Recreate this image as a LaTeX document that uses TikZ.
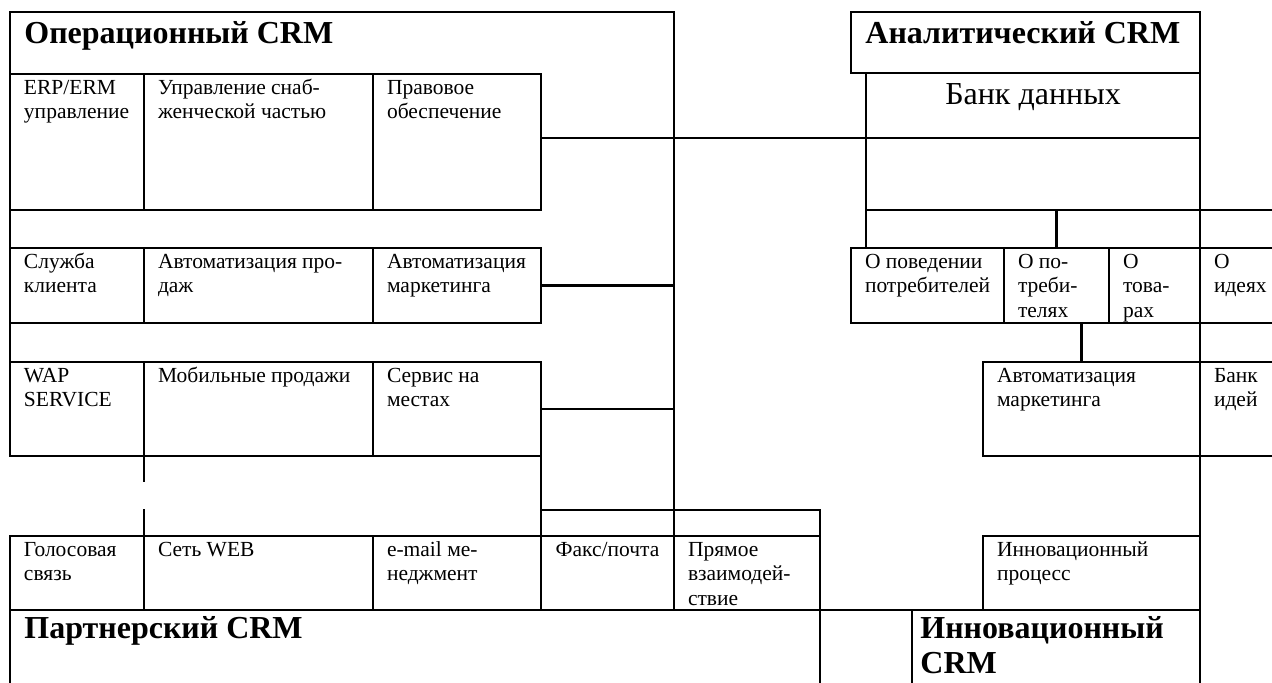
\documentclass[tikz,border=0pt]{standalone}
\usepackage{fontspec}
\setmainfont{Liberation Serif}
\usetikzlibrary{positioning}
\tikzstyle{cell}=[
	rectangle,
	draw,
	line width=1.1pt,
	outer sep=0pt,
	inner sep=0pt,
	anchor=north west
]
\tikzstyle{txt}=[
	anchor=base west,
	align=left,
	inner sep=0pt,
	xshift=6.8pt,
	yshift=-10.2pt,
	font=\fontsize{10.75}{12.2}\selectfont
]
\tikzstyle{twolines}=[
	yshift=-12.2pt
]
\tikzstyle{threelines}=[
	yshift=-24.4pt
]
\tikzstyle{crmtitle}=[
	anchor=north west,
	align=left,
	inner sep=0pt,
	xshift=7pt,
	yshift=-4.6pt,
	font=\fontsize{16}{17.5}\selectfont\bfseries
]
\tikzstyle{bigtxt}=[
	anchor=north,
	inner sep=0pt,
	yshift=-5pt,
	font=\fontsize{16}{17.5}\selectfont
]
\tikzstyle{link}=[
	line width=1.1pt
]

\begin{document}
\begin{tikzpicture}[node distance=0pt]
\useasboundingbox (0,0) rectangle (636pt,-341pt);
\clip (0,0) rectangle (636pt,-341pt);
% operational CRM
\coordinate (opcorner) at (337pt,-6pt);
\node [crmtitle] (optitle) at (5pt,-6pt) {Операционный CRM};
\node [cell, minimum width=67pt, minimum height=68pt] (erp) at (5pt,-37pt) {};
\node [cell, minimum width=114.5pt, minimum height=68pt, right=of erp] (snab) {};
\node [cell, minimum width=84pt, minimum height=68pt, right=of snab] (pravo) {};
\node [cell, minimum width=67pt, minimum height=37.5pt] (sluzhba) at (5pt,-124pt) {};
\node [cell, minimum width=114.5pt, minimum height=37.5pt, right=of sluzhba] (avtoprod) {};
\node [cell, minimum width=84pt, minimum height=37.5pt, right=of avtoprod] (avtomark) {};
\node [cell, minimum width=67pt, minimum height=47pt] (wap) at (5pt,-181pt) {};
\node [cell, minimum width=114.5pt, minimum height=47pt, right=of wap] (mobil) {};
\node [cell, minimum width=84pt, minimum height=47pt, right=of mobil] (servis) {};
% partner CRM
\node [cell, minimum width=67pt, minimum height=37pt] (golos) at (5pt,-268pt) {};
\node [cell, minimum width=114.5pt, minimum height=37pt, right=of golos] (web) {};
\node [cell, minimum width=84pt, minimum height=37pt, right=of web] (email) {};
\node [cell, minimum width=66.5pt, minimum height=37pt, right=of email] (faks) {};
\node [cell, minimum width=73pt, minimum height=37pt, right=of faks] (pryamoe) {};
\node [cell, minimum width=66.5pt, minimum height=13pt, above=of faks] (fakstop) {};
\node [cell, minimum width=73pt, minimum height=13pt, above=of pryamoe] (pryamoetop) {};
\node [cell, minimum width=405pt, minimum height=50pt, below=of golos.south west, anchor=north west] (partner) {};
% analytic CRM
\node [cell, minimum width=174.5pt, minimum height=30.5pt] (antitle) at (425.5pt,-6pt) {};
\node [cell, minimum width=167pt, minimum height=32.5pt, below=of antitle.south east, anchor=north east] (bank) {};
\node [cell, minimum width=167pt, minimum height=36pt, below=of bank] (dbempty) {};
\node [cell, minimum width=76.5pt, minimum height=37.5pt] (povedenie) at (antitle.south west |- sluzhba.north west) {};
\node [cell, minimum width=52.5pt, minimum height=37.5pt, right=of povedenie] (potreb) {};
\node [cell, minimum width=45.5pt, minimum height=37.5pt, right=of potreb] (tovar) {};
\node [cell, minimum width=60pt, minimum height=37.5pt, right=of tovar] (idei) {};
\node [cell, minimum width=108.5pt, minimum height=47pt] (avtomark2) at (491.5pt,-181pt) {};
\node [cell, minimum width=60pt, minimum height=47pt, right=of avtomark2] (bankidei) {};
% innovation CRM
\node [cell, minimum width=108.5pt, minimum height=37pt] (innovproc) at (491.5pt,-268pt) {};
\node [cell, minimum width=144pt, minimum height=50pt, below=of innovproc.south east, anchor=north east] (innovcrm) {};

% texts
\node [txt, twolines] (erp-t) at (erp.north west) {ERP/ERM\\управление};
\node [txt, twolines] (snab-t) at (snab.north west) {Управление снаб-\\женческой частью};
\node [txt, twolines] (pravo-t) at (pravo.north west) {Правовое\\обеспечение};
\node [txt, twolines] (sluzhba-t) at (sluzhba.north west) {Служба\\клиента};
\node [txt, twolines] (avtoprod-t) at (avtoprod.north west) {Автоматизация про-\\даж};
\node [txt, twolines] (avtomark-t) at (avtomark.north west) {Автоматизация\\маркетинга};
\node [txt, twolines] (wap-t) at (wap.north west) {WAP\\SERVICE};
\node [txt] (mobil-t) at (mobil.north west) {Мобильные продажи};
\node [txt, twolines] (servis-t) at (servis.north west) {Сервис на\\местах};
\node [txt, twolines] (golos-t) at (golos.north west) {Голосовая\\связь};
\node [txt] (web-t) at (web.north west) {Сеть WEB};
\node [txt, twolines] (email-t) at (email.north west) {e-mail ме-\\неджмент};
\node [txt, anchor=base, xshift=-6.8pt] (faks-t) at (faks.north) {Факс/почта};
\node [txt, threelines] (pryamoe-t) at (pryamoe.north west) {Прямое\\взаимодей-\\ствие};
\node [crmtitle, yshift=1.5pt] (partner-t) at (partner.north west) {Партнерский CRM};
\node [crmtitle] (antitle-t) at (antitle.north west) {Аналитический CRM};
\node [bigtxt] (bank-t) at (bank.north) {Банк данных};
\node [txt, twolines] (povedenie-t) at (povedenie.north west) {О поведении\\потребителей};
\node [txt, threelines] (potreb-t) at (potreb.north west) {О по-\\треби-\\телях};
\node [txt, threelines] (tovar-t) at (tovar.north west) {О\\това-\\рах};
\node [txt, twolines] (idei-t) at (idei.north west) {О\\идеях};
\node [txt, twolines] (avtomark2-t) at (avtomark2.north west) {Автоматизация\\маркетинга};
\node [txt, twolines] (bankidei-t) at (bankidei.north west) {Банк\\идей};
\node [txt, twolines] (innovproc-t) at (innovproc.north west) {Инновационный\\процесс};
\node [crmtitle, xshift=-3pt, yshift=1.5pt] (innovcrm-t) at (innovcrm.north west) {Инновационный\\CRM};

% connectors
\draw [link] (wap.south west) |- (opcorner) -- (fakstop.north east);
\draw [link] (bank.south west -| pravo.east) -- (bank.south west);
\draw [link] (avtomark.east) -- (avtomark.east -| opcorner);
\draw [link] (servis.east) -- (servis.east -| opcorner);
\draw [link] (servis.south east) -- (fakstop.north west);
\draw [link] (wap.south east) -- ++(0,-13pt);
\draw [link] (web.north west) -- ++(0,13.5pt);
\draw [link] (partner.north east) -- (innovcrm.north west);
\draw [link] (dbempty.south west) -- (dbempty.south west |- povedenie.north);
\draw [link] (potreb.north |- dbempty.south) -- (potreb.north);
\draw [link] (dbempty.south east) -- (tovar.north east);
\draw [link] (dbempty.south east) -- ++(40pt,0);
\draw [link] ([xshift=-5pt]avtomark2.north) -- ([xshift=-5pt]avtomark2.north |- tovar.south);
\draw [link] (tovar.south east) -- (avtomark2.north east);
\draw [link] (avtomark2.south east) -- (innovproc.north east);
\end{tikzpicture}
\end{document}
